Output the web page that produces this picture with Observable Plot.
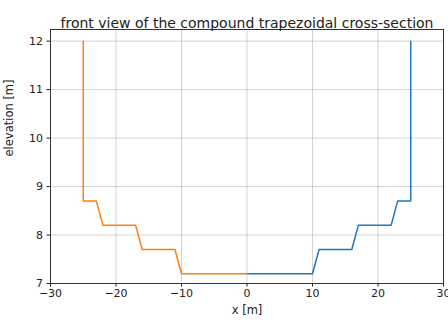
<!DOCTYPE html>
<html><head><meta charset="utf-8">
<script src="https://cdn.jsdelivr.net/npm/d3@7"></script>
<script src="https://cdn.jsdelivr.net/npm/@observablehq/plot@0.6"></script>
<style>body{margin:0;background:#fff;} svg{display:block;}</style>
</head><body><div id="chart"></div>
<script>
const leftX = [-25, -25, -23, -22, -17, -16, -11, -10, 0];
const leftY = [12, 8.7, 8.7, 8.2, 8.2, 7.7, 7.7, 7.2, 7.2];
const rightX = [0, 10, 11, 16, 17, 22, 23, 25, 25];
const rightY = [7.2, 7.2, 7.7, 7.7, 8.2, 8.2, 8.7, 8.7, 12];
const xTicks = [-30, -20, -10, 0, 10, 20, 30];
const yTicks = [7, 8, 9, 10, 11, 12];
const title = "front view of the compound trapezoidal cross-section";

const left = leftX.map((x, i) => ({x, y: leftY[i]}));
const right = rightX.map((x, i) => ({x, y: rightY[i]}));

const chart = Plot.plot({
  width: 448, height: 324,
  marginLeft: 50, marginRight: 5, marginTop: 29, marginBottom: 41,
  style: {fontFamily: "DejaVu Sans", fontSize: "11px", color: "#222"},
  x: {domain: [-30, 30], ticks: xTicks, label: null},
  y: {domain: [7, 12.24], ticks: yTicks, label: null},
  marks: [
    Plot.gridX(xTicks, {stroke: "#b0b0b0", strokeOpacity: 0.7, strokeWidth: 0.8}),
    Plot.gridY(yTicks, {stroke: "#b0b0b0", strokeOpacity: 0.7, strokeWidth: 0.8}),
    Plot.line(right, {x: "x", y: "y", stroke: "#1f77b4", strokeWidth: 1.5}),
    Plot.line(left, {x: "x", y: "y", stroke: "#ff7f0e", strokeWidth: 1.5}),
    Plot.frame({stroke: "#333", strokeWidth: 1}),
    Plot.axisX(xTicks, {tickSize: 3.5, tickPadding: 2, fontSize: 11, label: null}),
    Plot.axisY(yTicks, {tickSize: 3.5, tickPadding: 4, fontSize: 11, label: null}),
    Plot.text([title], {frameAnchor: "top", dy: -11, fontSize: 14, text: d => d}),
    Plot.text(["x [m]"], {frameAnchor: "bottom", dy: 30, fontSize: 11.5, text: d => d}),
    Plot.text(["elevation [m]"], {frameAnchor: "left", dx: -41, rotate: -90, fontSize: 11.5, text: d => d})
  ]
});
document.getElementById("chart").append(chart);
</script></body></html>
